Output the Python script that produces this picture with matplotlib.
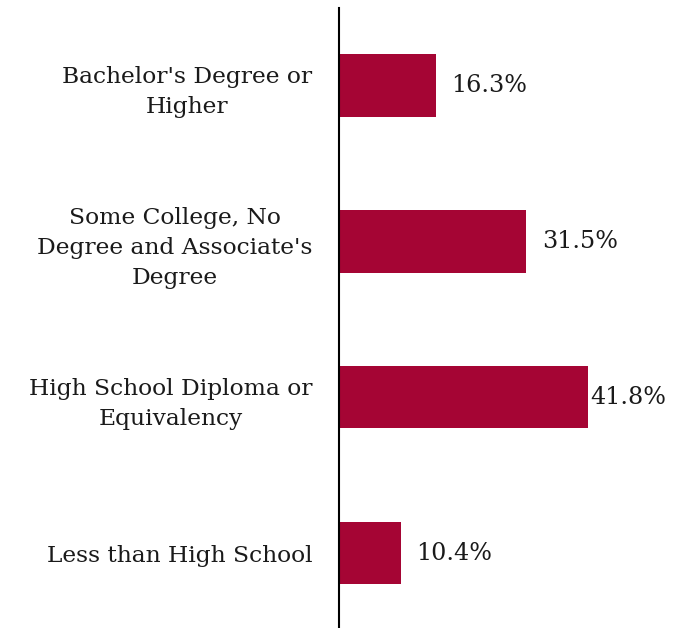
import matplotlib.pyplot as plt

categories = ["Bachelor's Degree or\nHigher",
              "Some College, No\nDegree and Associate's\nDegree",
              "High School Diploma or\nEquivalency",
              "Less than High School"]
values = [16.3, 31.5, 41.8, 10.4]

plt.rcParams['font.family'] = ['DejaVu Serif']

fig = plt.figure(figsize=(6.83, 6.28), dpi=100)
ax = fig.add_axes([339 / 683, 0, 1 - 339 / 683, 1 - 8 / 628])

pos = list(range(len(categories)))
ax.barh(pos, values, height=0.4, color='#A50534')

# last label sits tight against its bar
pads = [11, 11, 1.5, 11]
for p, v, pad in zip(pos, values, pads):
    ax.annotate(f"{v}%", (v, p), xytext=(pad, 0), textcoords='offset points',
                va='center', ha='left', fontsize=17.2, color='#1a1a1a')

ax.set_xlim(0, 57.8)
ax.set_ylim(3.48, -0.497)
ax.set_xticks([])
ax.set_yticks(pos)
ax.set_yticklabels(categories, fontsize=16.8, color='#1a1a1a',
                   multialignment='center', linespacing=1.47)
ax.tick_params(axis='y', length=0, pad=19)

for s in ['top', 'right', 'bottom']:
    ax.spines[s].set_visible(False)
ax.spines['left'].set_linewidth(1.5)
ax.spines['left'].set_color('black')

plt.savefig('out.png', dpi=100)
